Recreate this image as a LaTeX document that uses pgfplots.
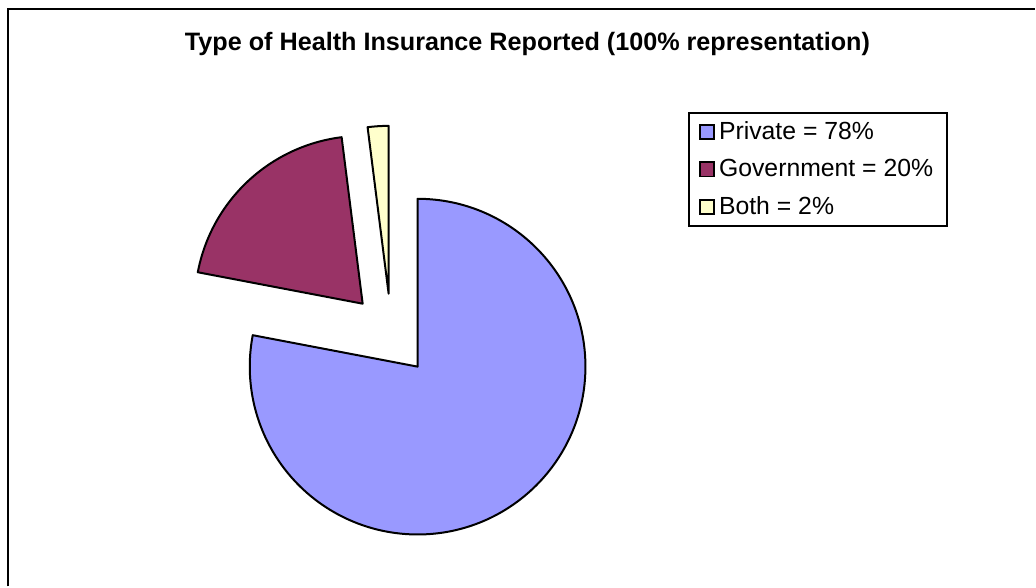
\documentclass[border=0pt]{standalone}
\usepackage{pgfplots}
\pgfplotsset{compat=1.18}
\usepackage{pgfplotstable}
\usepackage{fontspec}
\setmainfont{Liberation Sans}

\definecolor{priv}{HTML}{9999FF}
\definecolor{gov}{HTML}{993366}
\definecolor{both}{HTML}{FFFFCC}

% share of each slice (percent) and the centre (tip) of each slice, in pixels
\pgfplotstableread{
name value cx cy colour
Private 78 418 220 priv
Government 20 363 283 gov
Both 2 389 293 both
}\piedata

\begin{document}
\begin{tikzpicture}
\begin{axis}[
    x=0.5pt, y=0.5pt,
    xmin=0, xmax=1036,
    ymin=0, ymax=587,
    hide axis,
    clip=false,
    legend cell align=left,
    legend image code/.code={\draw[#1, line width=0.9pt] (0.2pt,-3.55pt) rectangle (7.3pt,3.55pt);},
    legend style={
        at={(0.665,0.809)}, anchor=north west,
        draw=black, line width=0.8pt,
        font=\fontsize{12.4}{14.5}\selectfont,
        row sep=4.5pt, inner xsep=5pt, inner ysep=2.25pt,
        /tikz/every even column/.append style={column sep=0pt},
    },
]
\path (axis cs:0,0) rectangle (axis cs:1036,587);
% chart frame (only top and left edges are inside the picture)
\draw[line width=1pt] (axis cs:8,0) -- (axis cs:8,578) -- (axis cs:1036,578);

\node[font=\bfseries\fontsize{12.6}{15}\selectfont, anchor=base] at (axis cs:528,536)
    {Type of Health Insurance Reported (100\% representation)};

\pgfmathsetmacro\cum{90}
\pgfplotsforeachungrouped \i in {0,1,2}{%
    \pgfplotstablegetelem{\i}{value}\of\piedata \let\v\pgfplotsretval
    \pgfplotstablegetelem{\i}{cx}\of\piedata \let\cx\pgfplotsretval
    \pgfplotstablegetelem{\i}{cy}\of\piedata \let\cy\pgfplotsretval
    \pgfplotstablegetelem{\i}{colour}\of\piedata \let\col\pgfplotsretval
    \pgfmathsetmacro\startA{\cum}%
    \pgfmathsetmacro\endA{\cum-3.6*\v}%
    \edef\doslice{\noexpand\draw[fill=\col, line width=1pt, line join=round]
        (axis cs:\cx,\cy) -- ++(\startA:84pt)
        arc[start angle=\startA, end angle=\endA, radius=84pt] -- cycle;}%
    \doslice
    \global\let\cum\endA
}

\addlegendimage{fill=priv, draw=black}
\addlegendimage{fill=gov, draw=black}
\addlegendimage{fill=both, draw=black}
\legend{Private = 78\%, Government = 20\%, Both = 2\%}
\end{axis}
\end{tikzpicture}
\end{document}
